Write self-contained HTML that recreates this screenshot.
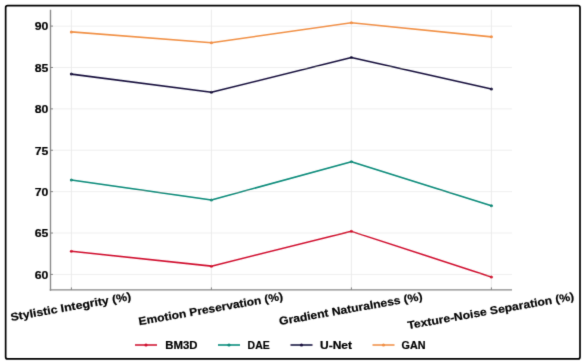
<!DOCTYPE html>
<html><head><meta charset="utf-8">
<style>
html,body{margin:0;padding:0;background:#fff;width:584px;height:362px;overflow:hidden;}
svg{position:absolute;left:0;top:0;}
text{font-family:"Liberation Sans",sans-serif;font-weight:bold;fill:#000;stroke:#000;stroke-width:0.2px;}
</style></head><body>
<svg width="584" height="362" viewBox="0 0 584 362">
<defs><filter id="soft" filterUnits="userSpaceOnUse" x="0" y="0" width="584" height="362"><feConvolveMatrix order="3" kernelMatrix="0.0114 0.0841 0.0114 0.0841 0.618 0.0841 0.0114 0.0841 0.0114" edgeMode="none" preserveAlpha="false"/></filter></defs>
<g filter="url(#soft)">
<rect x="5.65" y="5.65" width="574.35" height="353.25" rx="2" fill="none" stroke="#000" stroke-width="1.7"/>
<line x1="50.5" y1="274.41" x2="512" y2="274.41" stroke="#efefef" stroke-width="1"/>
<line x1="50.5" y1="233.02" x2="512" y2="233.02" stroke="#efefef" stroke-width="1"/>
<line x1="50.5" y1="191.64" x2="512" y2="191.64" stroke="#efefef" stroke-width="1"/>
<line x1="50.5" y1="150.25" x2="512" y2="150.25" stroke="#efefef" stroke-width="1"/>
<line x1="50.5" y1="108.87" x2="512" y2="108.87" stroke="#efefef" stroke-width="1"/>
<line x1="50.5" y1="67.48" x2="512" y2="67.48" stroke="#efefef" stroke-width="1"/>
<line x1="50.5" y1="26.10" x2="512" y2="26.10" stroke="#efefef" stroke-width="1"/>
<line x1="71.4" y1="9.7" x2="71.4" y2="289.6" stroke="#ebebeb" stroke-width="1"/>
<line x1="211.4" y1="9.7" x2="211.4" y2="289.6" stroke="#ebebeb" stroke-width="1"/>
<line x1="351.4" y1="9.7" x2="351.4" y2="289.6" stroke="#ebebeb" stroke-width="1"/>
<line x1="491.4" y1="9.7" x2="491.4" y2="289.6" stroke="#ebebeb" stroke-width="1"/>
<line x1="50.5" y1="9.7" x2="50.5" y2="290.70000000000005" stroke="#888" stroke-width="1.35"/>
<line x1="49.7" y1="289.90000000000003" x2="512" y2="289.90000000000003" stroke="#888" stroke-width="1.35"/>
<line x1="50.5" y1="274.41" x2="53.0" y2="274.41" stroke="#777" stroke-width="0.9"/>
<text x="48.3" y="278.71" text-anchor="end" font-size="11" textLength="13.6" lengthAdjust="spacingAndGlyphs">60</text>
<line x1="50.5" y1="233.02" x2="53.0" y2="233.02" stroke="#777" stroke-width="0.9"/>
<text x="48.3" y="237.32" text-anchor="end" font-size="11" textLength="13.6" lengthAdjust="spacingAndGlyphs">65</text>
<line x1="50.5" y1="191.64" x2="53.0" y2="191.64" stroke="#777" stroke-width="0.9"/>
<text x="48.3" y="195.94" text-anchor="end" font-size="11" textLength="13.6" lengthAdjust="spacingAndGlyphs">70</text>
<line x1="50.5" y1="150.25" x2="53.0" y2="150.25" stroke="#777" stroke-width="0.9"/>
<text x="48.3" y="154.56" text-anchor="end" font-size="11" textLength="13.6" lengthAdjust="spacingAndGlyphs">75</text>
<line x1="50.5" y1="108.87" x2="53.0" y2="108.87" stroke="#777" stroke-width="0.9"/>
<text x="48.3" y="113.17" text-anchor="end" font-size="11" textLength="13.6" lengthAdjust="spacingAndGlyphs">80</text>
<line x1="50.5" y1="67.48" x2="53.0" y2="67.48" stroke="#777" stroke-width="0.9"/>
<text x="48.3" y="71.78" text-anchor="end" font-size="11" textLength="13.6" lengthAdjust="spacingAndGlyphs">85</text>
<line x1="50.5" y1="26.10" x2="53.0" y2="26.10" stroke="#777" stroke-width="0.9"/>
<text x="48.3" y="30.40" text-anchor="end" font-size="11" textLength="13.6" lengthAdjust="spacingAndGlyphs">90</text>
<line x1="71.4" y1="289.6" x2="71.4" y2="287.40000000000003" stroke="#777" stroke-width="0.9"/>
<line x1="211.4" y1="289.6" x2="211.4" y2="287.40000000000003" stroke="#777" stroke-width="0.9"/>
<line x1="351.4" y1="289.6" x2="351.4" y2="287.40000000000003" stroke="#777" stroke-width="0.9"/>
<line x1="491.4" y1="289.6" x2="491.4" y2="287.40000000000003" stroke="#777" stroke-width="0.9"/>
<polyline points="71.4,251.23 211.4,266.13 351.4,231.37 491.4,276.89" fill="none" stroke="#D0102F" stroke-opacity="1" stroke-width="1.55" stroke-linejoin="round" stroke-linecap="round"/>
<circle cx="71.4" cy="251.23" r="1.5" fill="#D0102F"/>
<circle cx="211.4" cy="266.13" r="1.5" fill="#D0102F"/>
<circle cx="351.4" cy="231.37" r="1.5" fill="#D0102F"/>
<circle cx="491.4" cy="276.89" r="1.5" fill="#D0102F"/>
<polyline points="71.4,180.05 211.4,199.92 351.4,161.84 491.4,205.71" fill="none" stroke="#088A79" stroke-opacity="1" stroke-width="1.55" stroke-linejoin="round" stroke-linecap="round"/>
<circle cx="71.4" cy="180.05" r="1.5" fill="#088A79"/>
<circle cx="211.4" cy="199.92" r="1.5" fill="#088A79"/>
<circle cx="351.4" cy="161.84" r="1.5" fill="#088A79"/>
<circle cx="491.4" cy="205.71" r="1.5" fill="#088A79"/>
<polyline points="71.4,74.11 211.4,92.32 351.4,57.55 491.4,89.01" fill="none" stroke="#15113D" stroke-opacity="1" stroke-width="1.55" stroke-linejoin="round" stroke-linecap="round"/>
<circle cx="71.4" cy="74.11" r="1.5" fill="#15113D"/>
<circle cx="211.4" cy="92.32" r="1.5" fill="#15113D"/>
<circle cx="351.4" cy="57.55" r="1.5" fill="#15113D"/>
<circle cx="491.4" cy="89.01" r="1.5" fill="#15113D"/>
<polyline points="71.4,31.89 211.4,42.65 351.4,22.79 491.4,36.86" fill="none" stroke="#F19045" stroke-opacity="1" stroke-width="1.55" stroke-linejoin="round" stroke-linecap="round"/>
<circle cx="71.4" cy="31.89" r="1.5" fill="#F19045"/>
<circle cx="211.4" cy="42.65" r="1.5" fill="#F19045"/>
<circle cx="351.4" cy="22.79" r="1.5" fill="#F19045"/>
<circle cx="491.4" cy="36.86" r="1.5" fill="#F19045"/>
<g transform="translate(71.4,310.41) rotate(-10)"><text x="0" y="0" text-anchor="middle" font-size="11" textLength="122.2" lengthAdjust="spacingAndGlyphs">Stylistic Integrity (%)</text></g>
<g transform="translate(211.4,312.51) rotate(-10)"><text x="0" y="0" text-anchor="middle" font-size="11" textLength="146.4" lengthAdjust="spacingAndGlyphs">Emotion Preservation (%)</text></g>
<g transform="translate(351.4,312.42) rotate(-10)"><text x="0" y="0" text-anchor="middle" font-size="11" textLength="145.4" lengthAdjust="spacingAndGlyphs">Gradient Naturalness (%)</text></g>
<g transform="translate(491.4,314.47) rotate(-10)"><text x="0" y="0" text-anchor="middle" font-size="11" textLength="169.0" lengthAdjust="spacingAndGlyphs">Texture-Noise Separation (%)</text></g>
<line x1="135" y1="345" x2="157" y2="345" stroke="#D0102F" stroke-opacity="1" stroke-width="1.55"/>
<circle cx="146" cy="345" r="1.6" fill="#D0102F"/>
<text x="165.3" y="348.6" font-size="10" textLength="32.2" lengthAdjust="spacingAndGlyphs">BM3D</text>
<line x1="218" y1="345" x2="240" y2="345" stroke="#088A79" stroke-opacity="1" stroke-width="1.55"/>
<circle cx="229" cy="345" r="1.6" fill="#088A79"/>
<text x="247.6" y="348.6" font-size="10" textLength="22.1" lengthAdjust="spacingAndGlyphs">DAE</text>
<line x1="290.5" y1="345" x2="312.5" y2="345" stroke="#15113D" stroke-opacity="1" stroke-width="1.55"/>
<circle cx="301.5" cy="345" r="1.6" fill="#15113D"/>
<text x="320.0" y="348.6" font-size="10" textLength="32.0" lengthAdjust="spacingAndGlyphs">U-Net</text>
<line x1="372.5" y1="345" x2="394.5" y2="345" stroke="#F19045" stroke-opacity="1" stroke-width="1.55"/>
<circle cx="383.5" cy="345" r="1.6" fill="#F19045"/>
<text x="401.5" y="348.6" font-size="10" textLength="24.0" lengthAdjust="spacingAndGlyphs">GAN</text>
</g>
</svg>
</body></html>
